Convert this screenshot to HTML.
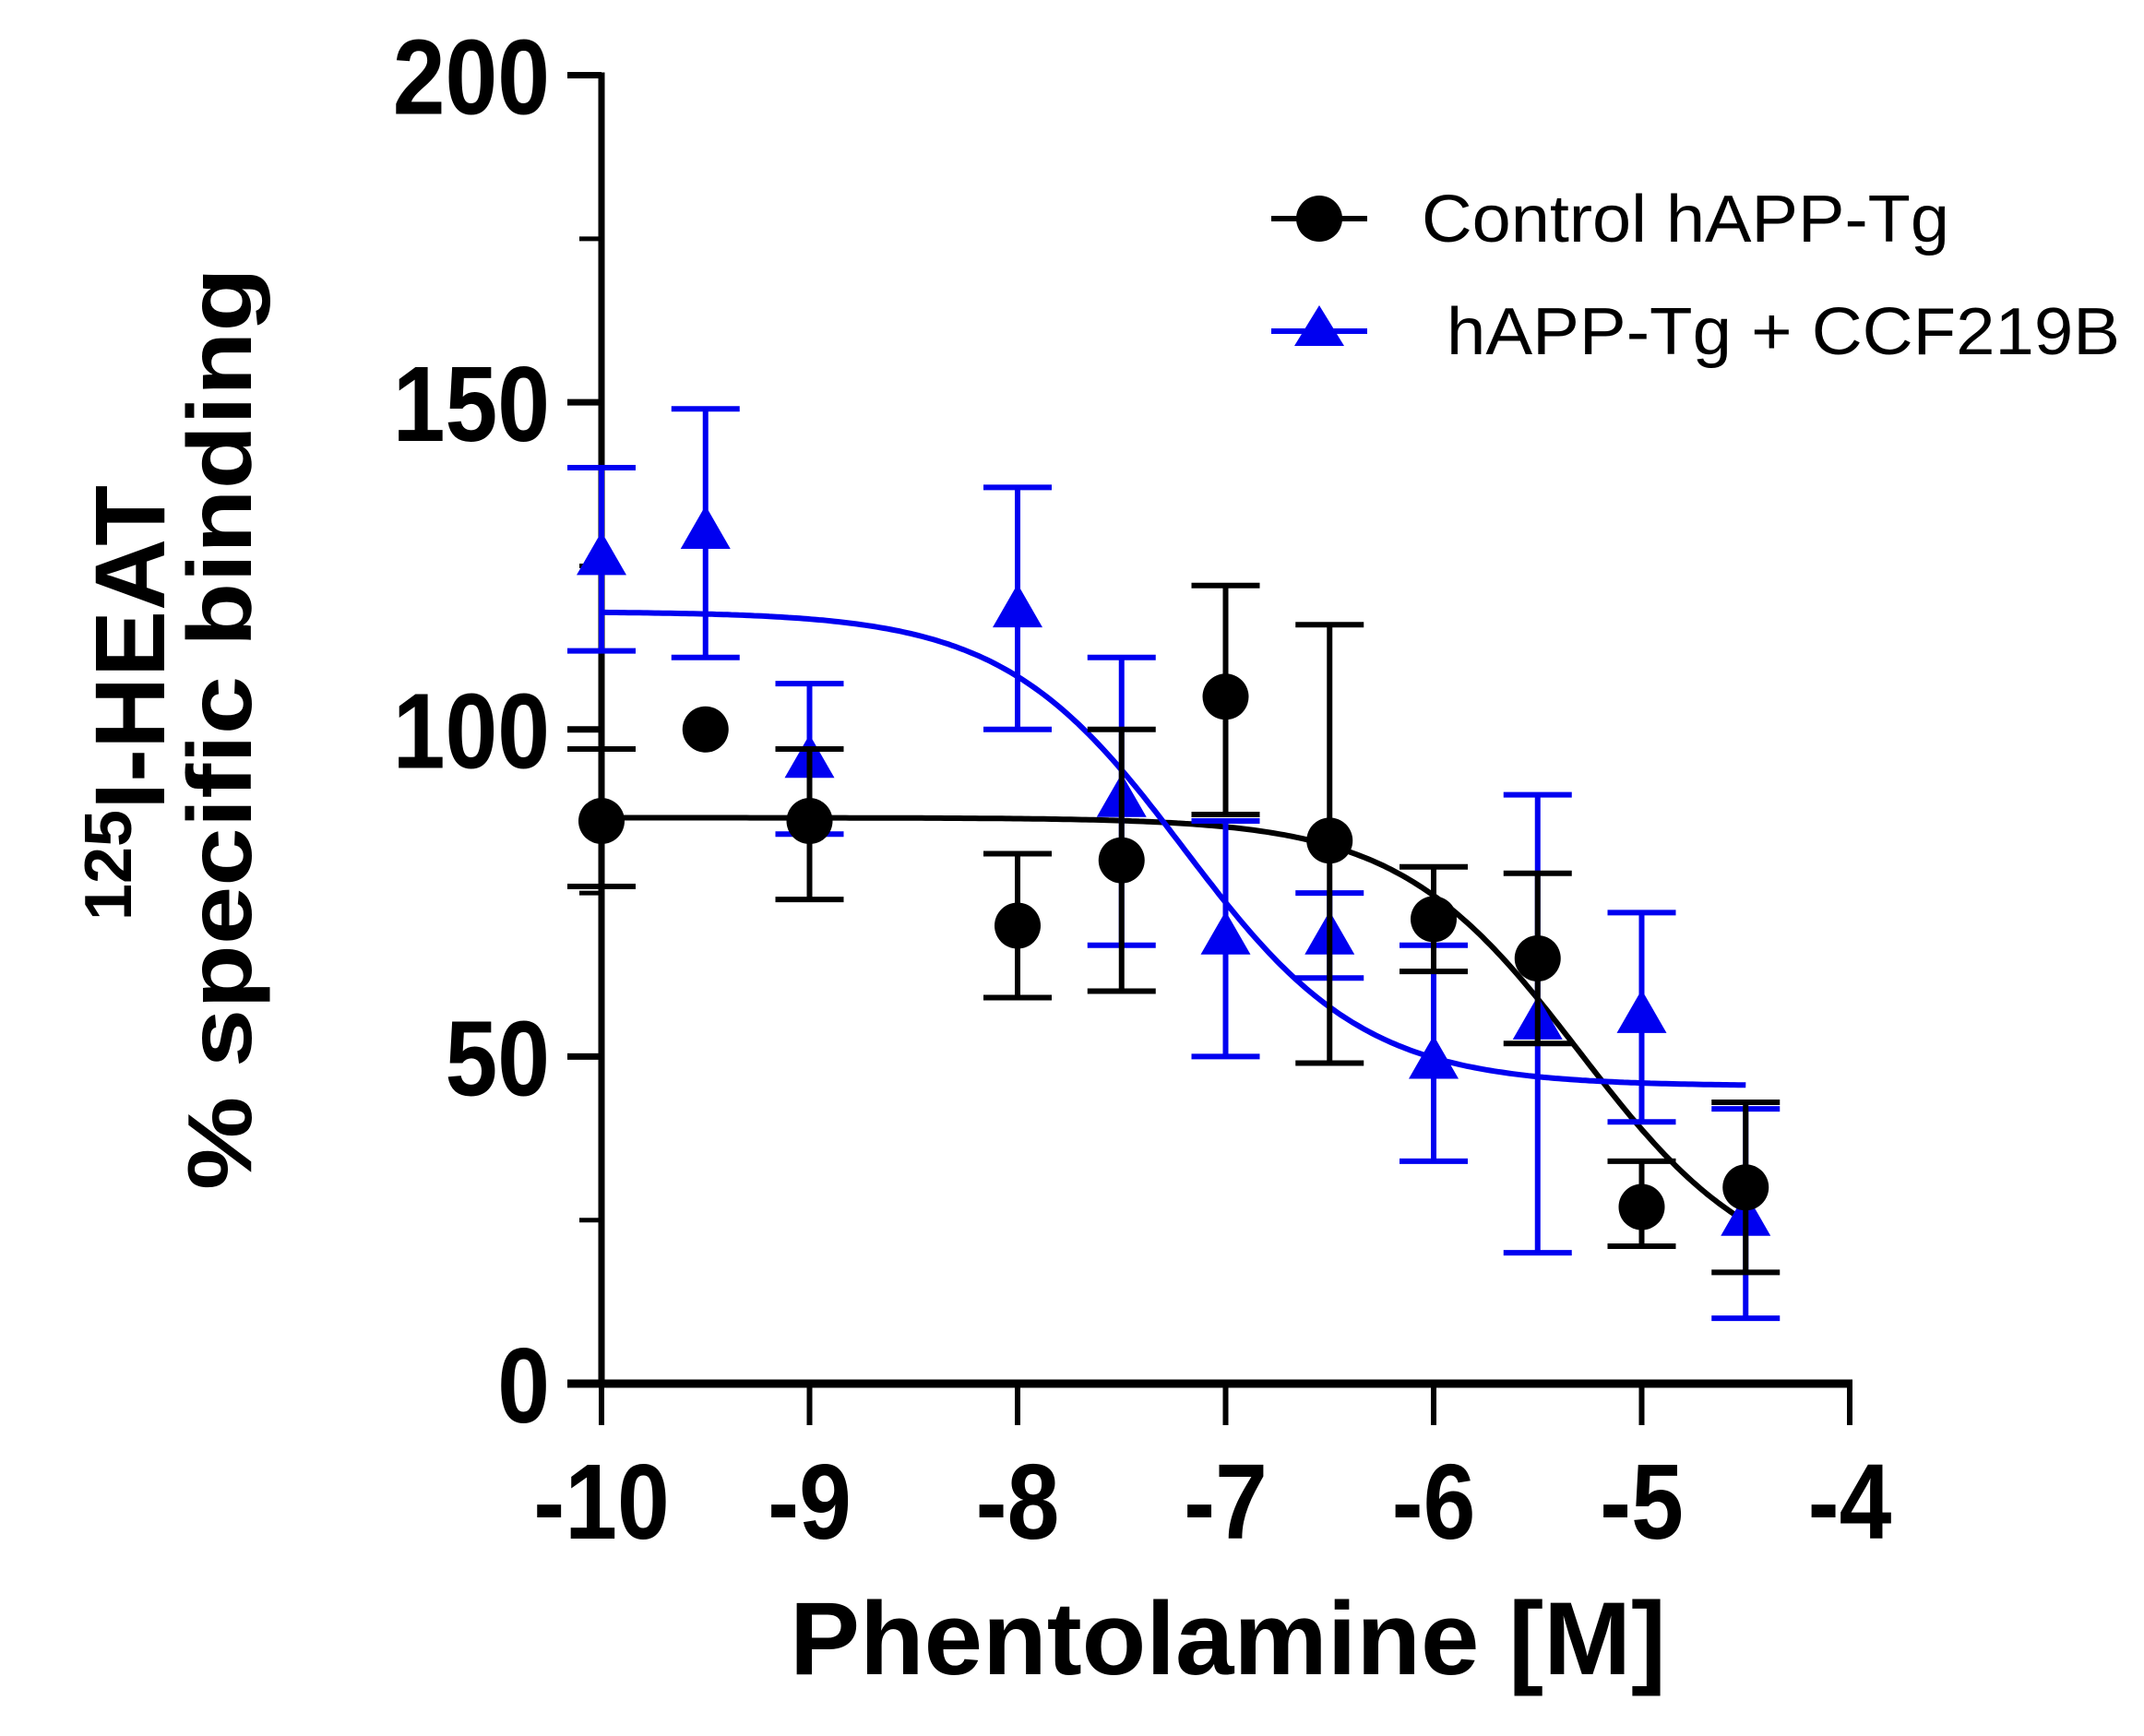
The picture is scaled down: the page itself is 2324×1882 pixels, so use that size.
<!DOCTYPE html>
<html><head><meta charset="utf-8"><style>
html,body{margin:0;padding:0;background:#fff}
svg{display:block}
text{font-family:"Liberation Sans",Arial,sans-serif;font-weight:bold}
</style></head><body>
<svg id="chart" width="2324" height="1882" viewBox="0 0 2324 1882">
<g id="axes"></g>
<g id="plot"></g>
<text x="1331" y="1815" font-size="112" text-anchor="middle" textLength="950" lengthAdjust="spacingAndGlyphs">Phentolamine [M]</text>
<text transform="translate(178,762) rotate(-90)" font-size="108" text-anchor="middle"><tspan font-size="72" dy="-36">125</tspan><tspan dy="36">I-HEAT</tspan></text>
<text transform="translate(272,790) rotate(-90)" font-size="98" text-anchor="middle" textLength="1000" lengthAdjust="spacingAndGlyphs">% specific binding</text>
<g>
<g>
<line x1="1378" y1="237" x2="1482" y2="237" stroke="#000" stroke-width="6"/>
<circle cx="1430" cy="237" r="25" fill="#000"/>
<text x="1541" y="262" font-size="72" style="font-weight:normal" textLength="572" lengthAdjust="spacingAndGlyphs">Control hAPP-Tg</text>
</g>
<g>
<line x1="1378" y1="359" x2="1482" y2="359" stroke="#0000f0" stroke-width="6"/>
<polygon points="1430,331 1457,375 1403,375" fill="#0000f0"/>
<text x="1568" y="384" font-size="72" style="font-weight:normal" textLength="730" lengthAdjust="spacingAndGlyphs">hAPP-Tg + CCF219B</text>
</g>
</g>
</svg>
<script>
const xs = [-10,-9.5,-9,-8,-7.5,-7,-6.5,-6,-5.5,-5,-4.5];
const ctrlMean = [86,100,86,70,80,105,83,71,65,27,30];
const ctrlLo = [76,null,74,59,60,87,49,63,52,21,17];
const ctrlHi = [97,null,97,81,100,122,116,79,78,34,43];
const ccfMean = [126,130,95,118,89,68,68,49,55,56,25];
const ccfLo = [112,111,84,100,67,50,62,34,20,40,10];
const ccfHi = [140,149,107,137,111,86,75,67,90,72,42];
const ctrlFit = [86.5,15,-5.3];
const ccfFit = [118,45.5,-7.2];
const xTicks = [-10,-9,-8,-7,-6,-5,-4];
const yTicks = [0,50,100,150,200];
const yMinor = [25,75,125,175];

const NS='http://www.w3.org/2000/svg';
const X=v=>652+(v+10)*(2005-652)/6;
const Y=v=>1500-v*(1500-81.5)/200;
function mk(tag,attrs,parent){const e=document.createElementNS(NS,tag);for(const k in attrs)e.setAttribute(k,attrs[k]);parent.appendChild(e);return e;}
const axes=document.getElementById('axes'), plot=document.getElementById('plot');
let e;
e=mk('line',{x1:652,y1:Y(200)-3,x2:652,y2:1504,stroke:'#000','stroke-width':7},axes);


e=mk('line',{x1:615,y1:1500,x2:2008,y2:1500,stroke:'#000','stroke-width':9},axes);


yTicks.forEach(t=>{
 e=mk('line',{x1:615,y1:Y(t),x2:652,y2:Y(t),stroke:'#000','stroke-width':7},axes);
 
 
 e=mk('text',{x:596,y:Y(t)+42,'font-size':116,'text-anchor':'end',transform:`translate(596,0) scale(0.88,1) translate(-596,0)`},axes);
 e.textContent=t;
 
 
});
yMinor.forEach(t=>{
 e=mk('line',{x1:628,y1:Y(t),x2:652,y2:Y(t),stroke:'#000','stroke-width':5},axes);
 
 
});
xTicks.forEach(t=>{
 e=mk('line',{x1:X(t),y1:1500,x2:X(t),y2:1545,stroke:'#000','stroke-width':6},axes);
 
 
 e=mk('text',{x:X(t),y:1668,'font-size':116,'text-anchor':'middle',transform:`translate(${X(t)},0) scale(0.88,1) translate(${-X(t)},0)`},axes);
 e.textContent=t;
 
 
});
function curve(fit,color,name){
 const [top,bot,c]=fit;let d='';
 for(let i=0;i<=300;i++){const x=-10+i*5.5/300;const y=bot+(top-bot)/(1+Math.pow(10,x-c));d+=(i?'L':'M')+X(x).toFixed(1)+','+Y(y).toFixed(1);}
 const p=mk('path',{d:d,fill:'none',stroke:color,'stroke-width':6},plot);
 
 
}
function series(mean,lo,hi,color,shape,name){
 xs.forEach((x,i)=>{
  if(lo[i]!==null){
   const cx=X(x);
   let g=mk('path',{d:`M${cx},${Y(lo[i])}V${Y(hi[i])}M${cx-37},${Y(lo[i])}H${cx+37}M${cx-37},${Y(hi[i])}H${cx+37}`,stroke:color,'stroke-width':6,fill:'none'},plot);
   
   
  }
 });
 xs.forEach((x,i)=>{
  const cx=X(x),cy=Y(mean[i]);let m;
  if(shape==='circle')m=mk('circle',{cx:cx,cy:cy,r:25,fill:color},plot);
  else m=mk('polygon',{points:`${cx},${cy-30} ${cx+27},${cy+17} ${cx-27},${cy+17}`,fill:color},plot);
  
  
 });
}
curve(ctrlFit,'#000','control-fit-curve');
curve(ccfFit,'#0000f0','ccf219b-fit-curve');
series(ccfMean,ccfLo,ccfHi,'#0000f0','tri','ccf219b');
series(ctrlMean,ctrlLo,ctrlHi,'#000','circle','control');
</script>
</body></html>
